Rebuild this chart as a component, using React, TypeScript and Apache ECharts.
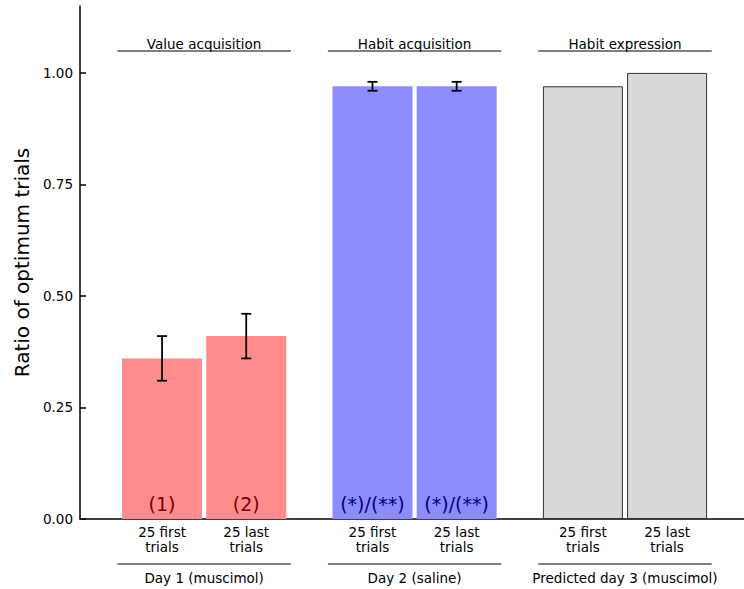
import React, { useEffect, useRef } from "react";
import * as echarts from "echarts";

const xPositions = [0, 1, 2.5, 3.5, 5, 6];
const tickLabels = [
  "25 first\ntrials",
  "25 last\ntrials",
  "25 first\ntrials",
  "25 last\ntrials",
  "25 first\ntrials",
  "25 last\ntrials",
];
const values = [0.36, 0.41, 0.97, 0.97, 0.97, 1.0];
const errors = [0.05, 0.05, 0.01, 0.01, null, null];
const innerLabels = ["(1)", "(2)", "(*)/(**)", "(*)/(**)", "", ""];
const barGroup = [0, 0, 1, 1, 2, 2];
const groupColors = ["#ff8c8c", "#8c8cff", "#d8d8d8"];
const groupLabelColors = ["#7a0000", "#00007a", "#000000"];
const groupCenters = [0.5, 3, 5.5];
const groupHalfWidth = 1.03;
const groupTop = ["Value acquisition", "Habit acquisition", "Habit expression"];
const groupBottom = ["Day 1 (muscimol)", "Day 2 (saline)", "Predicted day 3 (muscimol)"];
const yTicks = [0, 0.25, 0.5, 0.75, 1.0];

const FONT = "DejaVu Sans";
const SMALL = 13.5;

export default function App() {
  const ref = useRef<HTMLDivElement>(null);
  useEffect(() => {
    if (!ref.current) return;
    const chart = echarts.init(ref.current, null, { renderer: "svg" });
    const barData = xPositions.map((x, i) => {
      const g = barGroup[i];
      return {
        value: [x, values[i]],
        itemStyle: {
          color: groupColors[g],
          borderColor: g === 2 ? "#333333" : "transparent",
          borderWidth: g === 2 ? 1 : 0,
        },
        label: { color: groupLabelColors[g] },
      };
    });
    const errData = xPositions
      .map((x, i) => [x, values[i], errors[i]])
      .filter((d) => d[2] != null);
    const groupData = groupCenters.map((c, i) => [c, groupHalfWidth, i]);

    chart.setOption({
      animation: false,
      textStyle: { fontFamily: FONT },
      grid: { left: 80, top: 6, right: 0, height: 513 },
      xAxis: {
        type: "value",
        min: -0.975,
        max: 6.914,
        splitLine: { show: false },
        axisLine: { show: true, onZero: false, lineStyle: { color: "#000", width: 1.5 } },
        axisTick: { show: false },
        axisLabel: {
          customValues: xPositions,
          formatter: (v: number) => {
            const idx = xPositions.findIndex((p) => Math.abs(p - v) < 1e-6);
            return idx >= 0 ? tickLabels[idx] : "";
          },
          color: "#000",
          fontSize: SMALL,
          lineHeight: 15.5,
          margin: 5,
          fontFamily: FONT,
        },
      },
      yAxis: {
        type: "value",
        min: 0,
        max: 1.15,
        name: "Ratio of optimum trials",
        nameLocation: "middle",
        nameRotate: 90,
        nameGap: 47,
        nameTextStyle: { fontSize: 20, color: "#000", fontFamily: FONT },
        splitLine: { show: false },
        axisLine: { show: true, onZero: false, lineStyle: { color: "#000", width: 1.5 } },
        axisTick: {
          show: true,
          inside: true,
          length: 6,
          customValues: yTicks,
          lineStyle: { color: "#000", width: 1.5 },
        },
        axisLabel: {
          customValues: yTicks,
          formatter: (v: number) => v.toFixed(2),
          color: "#000",
          fontSize: SMALL,
          margin: 7,
          fontFamily: FONT,
        },
      },
      series: [
        {
          type: "bar",
          data: barData,
          barWidth: 80,
          label: {
            show: true,
            position: "insideBottom",
            distance: 6,
            fontSize: 19,
            fontFamily: FONT,
            formatter: (p: any) => innerLabels[p.dataIndex],
          },
        },
        {
          type: "custom",
          data: errData,
          z: 5,
          renderItem: (params: any, api: any) => {
            const x = api.value(0);
            const v = api.value(1);
            const e = api.value(2);
            const lo = api.coord([x, v - e]);
            const hi = api.coord([x, v + e]);
            const cap = 5;
            const style = { stroke: "#000", lineWidth: 1.8 };
            return {
              type: "group",
              children: [
                { type: "line", shape: { x1: lo[0], y1: lo[1], x2: hi[0], y2: hi[1] }, style },
                { type: "line", shape: { x1: lo[0] - cap, y1: lo[1], x2: lo[0] + cap, y2: lo[1] }, style },
                { type: "line", shape: { x1: hi[0] - cap, y1: hi[1], x2: hi[0] + cap, y2: hi[1] }, style },
              ],
            };
          },
        },
        {
          type: "custom",
          data: groupData,
          clip: false,
          renderItem: (params: any, api: any) => {
            const c = api.value(0);
            const hw = api.value(1);
            const idx = api.value(2);
            const left = api.coord([c - hw, 0]);
            const right = api.coord([c + hw, 0]);
            const base = left[1];
            const topY = 51;
            const botY = base + 45;
            const style = { stroke: "#000", lineWidth: 1 };
            const mid = (left[0] + right[0]) / 2;
            return {
              type: "group",
              children: [
                { type: "line", shape: { x1: left[0], y1: topY, x2: right[0], y2: topY }, style },
                {
                  type: "text",
                  x: mid,
                  y: topY - 7,
                  style: {
                    text: groupTop[idx],
                    fontSize: SMALL,
                    fontFamily: FONT,
                    fill: "#000",
                    align: "center",
                    verticalAlign: "middle",
                  },
                },
                { type: "line", shape: { x1: left[0], y1: botY, x2: right[0], y2: botY }, style },
                {
                  type: "text",
                  x: mid,
                  y: botY + 14,
                  style: {
                    text: groupBottom[idx],
                    fontSize: SMALL,
                    fontFamily: FONT,
                    fill: "#000",
                    align: "center",
                    verticalAlign: "middle",
                  },
                },
              ],
            };
          },
        },
      ],
    });
    return () => chart.dispose();
  }, []);
  return (
    <div
      ref={ref}
      style={{ position: "fixed", left: 0, top: 0, width: 744, height: 589, background: "#fff" }}
    />
  );
}
